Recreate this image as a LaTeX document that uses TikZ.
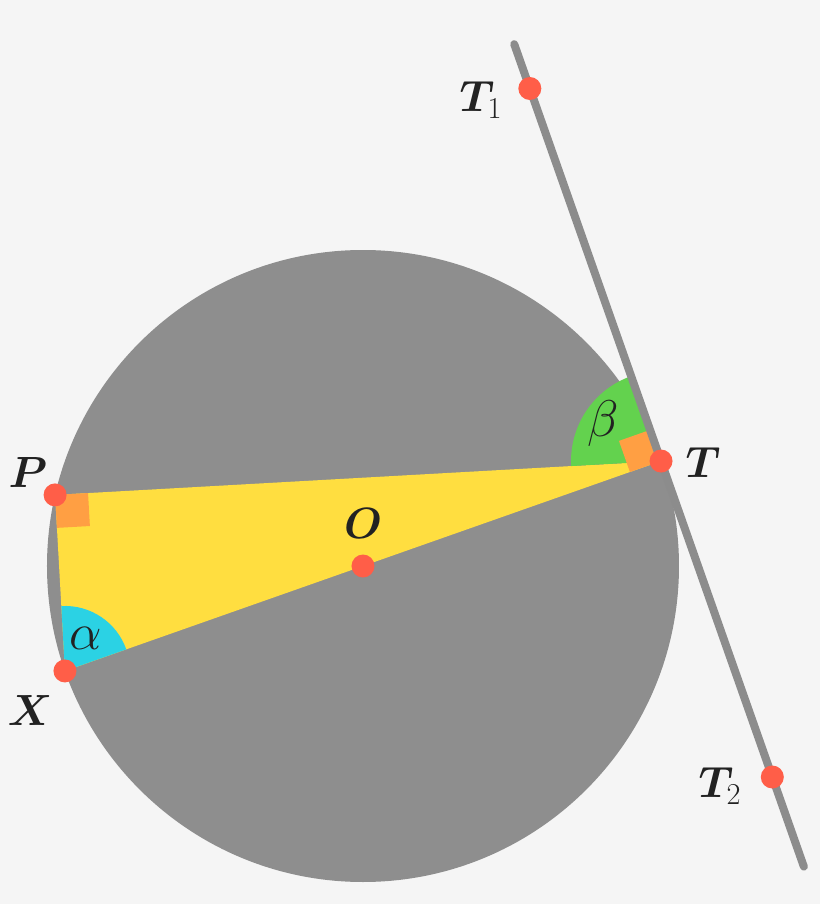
\documentclass[tikz,border=0pt]{standalone}
\usepackage{amsmath, amsfonts}
\usepackage{bm}
\usepackage{tikz}
\usetikzlibrary{calc}
\usepackage{xcolor}
\definecolor{bgcol}{HTML}{F5F5F5}
\definecolor{disc}{HTML}{8E8E8E}
\definecolor{tline}{HTML}{8C8C8C}
\definecolor{dotred}{HTML}{FF5E48}
\definecolor{tri}{HTML}{FFDE40}
\definecolor{sq}{HTML}{FF9F43}
\definecolor{angb}{HTML}{63D24E}
\definecolor{anga}{HTML}{2BD2E4}
\definecolor{ink}{HTML}{222222}

\begin{document}
\begin{tikzpicture}[x=0.02cm,y=0.02cm,
		pt/.style={circle,fill=dotred,inner sep=0pt,minimum size=23*0.02cm},
		lbl/.style={text=ink,font=\fontsize{24}{28}\selectfont},
		glbl/.style={lbl,scale=1.18,transform shape}]
				\fill[bgcol] (-363,-338) rectangle (457,566);
				\useasboundingbox (-363,-338) rectangle (457,566);
				\coordinate (O) at (0,0);
				\coordinate (T) at (19.4:316);
				\coordinate (X) at (199.4:316);
				\coordinate (P) at (167:316);
				\coordinate (T1) at ($(T)+(109.4:395)$);
				\coordinate (T2) at ($(T)+(109.4:-335)$);
				\coordinate (Ltop) at ($(T)+(109.4:442)$);
				\coordinate (Lbot) at ($(T)+(109.4:-430)$);
				\fill[disc] (O) circle (316);
				\fill[tri] (P) -- (T) -- (X) -- cycle;
				\fill[anga] (X) -- ++(19.4:65) arc[start angle=19.4, end angle=93.2, radius=65] -- cycle;
				\fill[angb] (T) -- ++(109.4:90) arc[start angle=109.4, end angle=183.2, radius=90] -- cycle;
				\fill[sq] (P) -- ++(3.2:33) -- ++(-86.8:33) -- ++(183.2:33) -- cycle;
				\fill[sq] (T) -- ++(199.4:33) -- ++(109.4:33) -- ++(19.4:33) -- cycle;
				\draw[tline,line width=8*0.02cm,line cap=round] (Ltop) -- (Lbot);
				\node[pt] (dT) at (T) {};
				\node[pt] (dX) at (X) {};
				\node[pt] (dP) at (P) {};
				\node[pt] (dO) at (O) {};
				\node[pt] (dT1) at (T1) {};
				\node[pt] (dT2) at (T2) {};
				\node[lbl] (lT) at (340,103) {$\bm{T}$};
				\node[lbl] (lT1) at (118,466) {$\bm{T}_1$};
				\node[lbl] (lT2) at (357,-220) {$\bm{T}_2$};
				\node[lbl] (lP) at (-335,93) {$\bm{P}$};
				\node[lbl] (lX) at (-333,-144) {$\bm{X}$};
				\node[lbl] (lO) at (0,42) {$\bm{O}$};
				\node[glbl] (la) at (-277,-72) {$\alpha$};
				\node[glbl] (lb) at (240,142) {$\beta$};
			\end{tikzpicture}
\end{document}
